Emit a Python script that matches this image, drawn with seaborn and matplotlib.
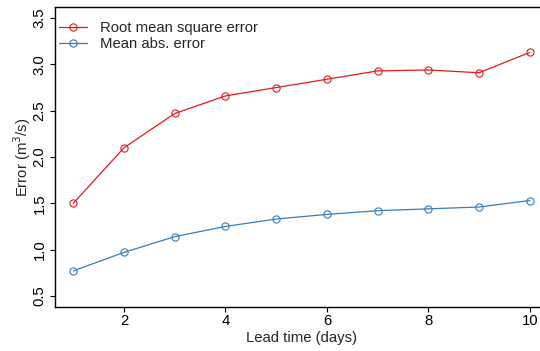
import matplotlib
matplotlib.use("Agg")
import matplotlib.pyplot as plt
import seaborn as sns
import pandas as pd

lead_days = [1, 2, 3, 4, 5, 6, 7, 8, 9, 10]
rmse = [1.50, 2.10, 2.47, 2.66, 2.75, 2.84, 2.93, 2.94, 2.91, 3.13]
mae = [0.77, 0.97, 1.14, 1.25, 1.33, 1.38, 1.42, 1.44, 1.46, 1.53]
series_names = ["Root mean square error", "Mean abs. error"]
colors = ["#E41A1C", "#377EB8"]
x_ticks = [2, 4, 6, 8, 10]
y_ticks = [0.5, 1.0, 1.5, 2.0, 2.5, 3.0, 3.5]

sns.set_style("ticks")
plt.rcParams["font.family"] = ["Liberation Sans", "DejaVu Sans"]
FS = 10.7

df = pd.DataFrame({
    "lead": lead_days * 2,
    "err": rmse + mae,
    "series": [series_names[0]] * len(rmse) + [series_names[1]] * len(mae),
})

fig = plt.figure(figsize=(5.4, 3.51), dpi=100)
ax = fig.add_axes([0.1019, 0.1254, 0.913, 0.8546])

sns.lineplot(data=df, x="lead", y="err", hue="series", hue_order=series_names,
             palette=colors, marker="o", markersize=5.2, markerfacecolor="none",
             markeredgewidth=0.8, linewidth=0.9, ax=ax)
for line, c in zip(ax.lines, colors):
    line.set_markeredgecolor(c)

ax.set_xlim(0.64, 10.36)
ax.set_ylim(0.38, 3.62)
ax.set_xticks(x_ticks)
ax.set_xticklabels([str(t) for t in x_ticks])
ax.set_yticks(y_ticks)
ax.set_yticklabels([f"{t:.1f}" for t in y_ticks], rotation=90, va="center")
ax.tick_params(axis="both", labelsize=FS, length=3.6, width=0.8, colors="black")
ax.tick_params(axis="x", pad=1.5)
ax.tick_params(axis="y", pad=2.5)
ax.set_xlabel("Lead time (days)", fontsize=FS, labelpad=2)
ax.set_ylabel("Error (m$^3$/s)", fontsize=FS, labelpad=0)
for s in ax.spines.values():
    s.set_color("black")
    s.set_linewidth(1.0)
ax.spines["right"].set_visible(False)

handles, labels = ax.get_legend_handles_labels()
for h, c in zip(handles, colors):
    h.set_markerfacecolor("none")
    h.set_markeredgecolor(c)
ax.legend(handles, labels, loc="upper left", bbox_to_anchor=(59 / 540, 1 - 21 / 351),
          bbox_transform=fig.transFigure, frameon=False, fontsize=FS,
          handlelength=1.88, handletextpad=0.87, borderpad=0, borderaxespad=0,
          labelspacing=0.15)

fig.savefig("out.png", dpi=100)
